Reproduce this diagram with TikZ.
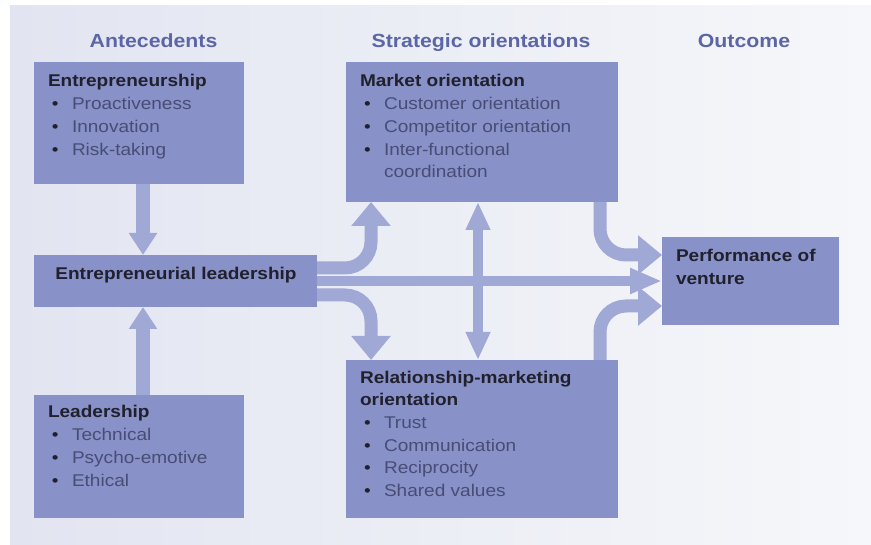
\documentclass[tikz,border=0pt]{standalone}
\usepackage{fontspec}
\setmainfont{Liberation Sans}[FakeStretch=1.12]
\usetikzlibrary{arrows.meta}
\definecolor{boxc}{RGB}{136,145,200}
\definecolor{arrc}{RGB}{160,168,214}
\definecolor{titc}{RGB}{92,102,166}
\definecolor{headc}{RGB}{32,33,45}
\definecolor{itemc}{RGB}{72,77,118}
\definecolor{bgl}{RGB}{226,229,241}
\definecolor{bgr}{RGB}{246,247,250}
\newcommand{\bitem}[1]{\\\hspace*{4pt}\makebox[20pt][l]{\color{headc}\textbullet}{\color{itemc}#1}}
\newcommand{\bcont}[1]{\\\hspace*{24pt}{\color{itemc}#1}}
\newcommand{\fstrut}{\rule{0pt}{14pt}}
\begin{document}
\begin{tikzpicture}[x=1pt,y=-1pt,
  box/.style={fill=boxc, draw=none, inner sep=0pt, outer sep=0pt, anchor=north west},
  txt/.style={anchor=north west, inner sep=0pt, outer sep=0pt, align=left, text=headc, font=\fontsize{17}{22.7}\selectfont},
  ttl/.style={anchor=base, inner sep=0pt, text=titc, font=\fontsize{19}{23}\selectfont\bfseries},
  fatA/.style={draw=arrc, line width=13pt, -{Triangle[width=38pt,length=24pt]}, rounded corners=26pt},
  vertA/.style={draw=arrc, line width=14pt, -{Triangle[width=27pt,length=22pt]}},
  horA/.style={draw=arrc, line width=10pt, -{Triangle[width=24pt,length=32pt]}},
  dblA/.style={draw=arrc, line width=10pt, {Triangle[width=23pt,length=28pt]}-{Triangle[width=23pt,length=28pt]}}
]
\useasboundingbox (0,0) rectangle (871,545);
\fill[white] (0,0) rectangle (871,545);
\shade[left color=bgl, right color=bgr] (10,6) rectangle (871,545);

% titles
\node[ttl] (t1) at (153.5,48) {Antecedents};
\node[ttl] (t2) at (481,48) {Strategic orientations};
\node[ttl] (t3) at (744,48) {Outcome};

% boxes
\node[box, minimum width=210pt, minimum height=122pt] (EP) at (34,62) {};
\node[box, minimum width=272pt, minimum height=140pt] (MO) at (346,62) {};
\node[box, minimum width=283pt, minimum height=52pt] (EL) at (34,255) {};
\node[box, minimum width=210pt, minimum height=123pt] (LD) at (34,395) {};
\node[box, minimum width=272pt, minimum height=158pt] (RM) at (346,360) {};
\node[box, minimum width=177pt, minimum height=88pt] (PV) at (662,237) {};

% texts
\node[txt] (EPt) at (48,73) {\fstrut\textbf{Entrepreneurship}\bitem{Proactiveness}\bitem{Innovation}\bitem{Risk-taking}};
\node[txt] (MOt) at (360,73) {\fstrut\textbf{Market orientation}\bitem{Customer orientation}\bitem{Competitor orientation}\bitem{Inter-functional}\bcont{coordination}};
\node[anchor=base, inner sep=0pt, text=headc, font=\fontsize{17}{22.7}\selectfont\bfseries] (ELt) at (176,280) {Entrepreneurial leadership};
\node[txt] (LDt) at (48,404) {\fstrut\textbf{Leadership}\bitem{Technical}\bitem{Psycho-emotive}\bitem{Ethical}};
\node[txt] (RMt) at (360,369) {\fstrut\textbf{Relationship-marketing}\\\textbf{orientation}\bitem{Trust}\bitem{Communication}\bitem{Reciprocity}\bitem{Shared values}};
\node[txt] (PVt) at (676,248) {\fstrut\textbf{Performance of}\\\textbf{venture}};

% connectors
\draw[vertA] ([xshift=4pt]EP.south) -- ([xshift=4pt]EP.south |- EL.north);
\draw[vertA] ([xshift=4pt]LD.north) -- ([xshift=4pt]LD.north |- EL.south);
\draw[fatA] ([yshift=13pt]EL.east) -| ([xshift=25pt]MO.south west);
\draw[fatA] ([yshift=-14pt]EL.east) -| ([xshift=25pt]RM.north west);
\draw[horA] (EL.east) -- (PV.west |- EL.east);
\draw[dblA] ([xshift=-4pt]MO.south) -- ([xshift=-4pt]RM.north);
\draw[fatA] ([xshift=-18pt]MO.south east) |- ([yshift=26pt]PV.west);
\draw[fatA] ([xshift=-18pt]RM.north east) |- ([yshift=-25pt]PV.west);
\end{tikzpicture}
\end{document}
